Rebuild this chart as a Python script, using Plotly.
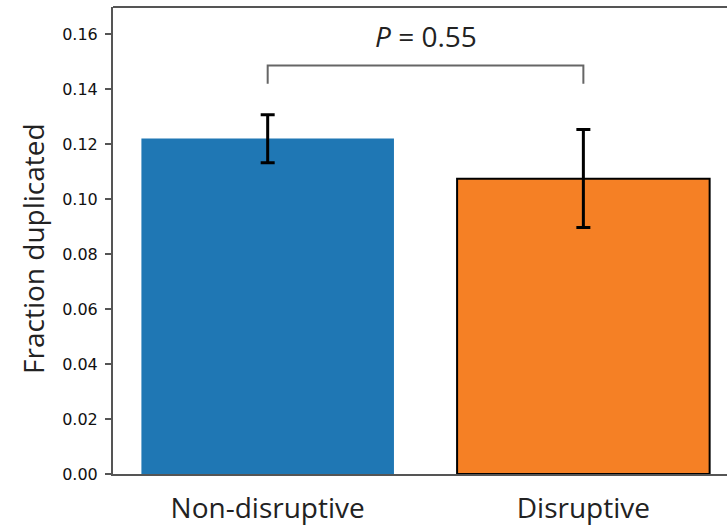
import plotly.graph_objects as go

categories = ["Non-disruptive", "Disruptive"]
values = [0.1221, 0.1075]
err_plus = [0.0087, 0.0179]
err_minus = [0.0088, 0.0178]
colors = ["#1f77b4", "#f58025"]
bracket_x = [0, 0, 1, 1]
bracket_y = [0.1421, 0.1487, 0.1487, 0.1421]
p_label = "<i>P</i> = 0.55"
y_ticks = [0.00, 0.02, 0.04, 0.06, 0.08, 0.10, 0.12, 0.14, 0.16]

fig = go.Figure()
fig.add_trace(go.Bar(
    x=[0, 1], y=values, width=0.8,
    marker=dict(color=colors, line=dict(color=["rgba(0,0,0,0)", "#000000"], width=2)),
    error_y=dict(type="data", symmetric=False, array=err_plus, arrayminus=err_minus,
                 color="#000000", thickness=3, width=7),
    showlegend=False,
))
fig.add_trace(go.Scatter(
    x=bracket_x, y=bracket_y, mode="lines",
    line=dict(color="#666666", width=2), showlegend=False, hoverinfo="skip",
))
fig.add_annotation(x=0.5, y=0.1595, xref="x", yref="y", text=p_label, showarrow=False,
                   font=dict(family="Open Sans", size=28, color="#222222"))
fig.add_annotation(x=-80/614, y=0.482, xref="paper", yref="paper", text="Fraction duplicated",
                   textangle=-90, showarrow=False, xanchor="center", yanchor="middle",
                   font=dict(family="Open Sans", size=28, color="#222222"))

fig.update_layout(
    width=727, height=527,
    margin=dict(l=113, r=0, t=7, b=53),
    plot_bgcolor="white", paper_bgcolor="white",
    bargap=0.2,
)
fig.update_xaxes(
    range=[-0.49, 1.455], tickvals=[0, 1], ticktext=categories,
    showline=True, linecolor="#555555", linewidth=2, mirror=False,
    ticks="", showgrid=False, zeroline=False, ticklabelstandoff=8,
    tickfont=dict(family="Open Sans", size=28, color="#222222"),
)
fig.update_yaxes(
    range=[0, 0.17], tickvals=y_ticks, tickformat=".2f",
    showline=True, linecolor="#555555", linewidth=2, mirror=False,
    ticks="outside", ticklen=6, tickwidth=1.5, tickcolor="#555555",
    showgrid=False, zeroline=False, ticklabelstandoff=4,
    tickfont=dict(family="DejaVu Sans", size=16, color="#111111"),
)
# top spine
fig.add_shape(type="line", xref="paper", yref="paper", x0=0, x1=1, y0=1, y1=1,
              line=dict(color="#555555", width=2))
fig.write_html("out.html", config={"displayModeBar": False},
               post_script="document.body.style.margin='0';")
